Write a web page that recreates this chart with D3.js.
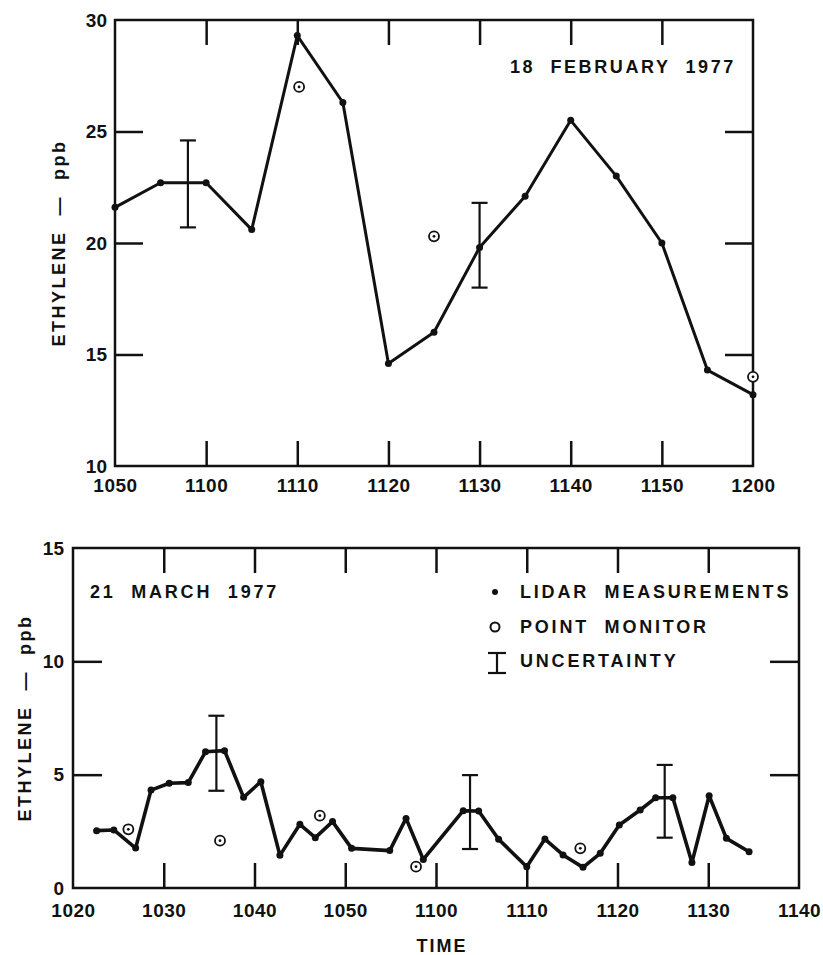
<!DOCTYPE html>
<html>
<head>
<meta charset="utf-8">
<script src="https://cdn.jsdelivr.net/npm/d3@7"></script>
<style>
  body { margin: 0; background: #fff; }
  text { font-family: "Liberation Sans", Arial, sans-serif; font-weight: bold; fill: #111; white-space: pre; }
</style>
</head>
<body>
<div class="chart"></div>
<script>
// times are minutes after 10:00
// 18 February 1977
var febTimes = [50, 55, 60, 65, 70, 75, 80, 85, 90, 95, 100, 105, 110, 115, 120];
var febLidar = [21.6, 22.7, 22.7, 20.6, 29.3, 26.3, 14.6, 16.0, 19.8, 22.1, 25.5, 23.0, 20.0, 14.3, 13.2];
var febMonTimes = [70.2, 85, 120];
var febMonitor = [27.0, 20.3, 14.0];
var febErrTimes = [58, 90];
var febErrLo = [20.7, 18.0];
var febErrHi = [24.6, 21.8];
var febTicks = [50, 60, 70, 80, 90, 100, 110, 120];
var febTickLabels = ["1050", "1100", "1110", "1120", "1130", "1140", "1150", "1200"];
var febYTicks = [10, 15, 20, 25, 30];

// 21 March 1977
var marTimes = [22.6, 24.5, 26.9, 28.6, 30.6, 32.7, 34.6, 36.7, 38.8, 40.7, 42.8, 45.0, 46.7, 48.6, 50.7,
                54.9, 56.7, 58.6, 63.0, 64.7, 66.9, 70.0, 72.0, 74.0, 76.2, 78.1, 80.2, 82.5, 84.2, 86.1,
                88.2, 90.1, 92.0, 94.5];
var marLidar = [2.53, 2.56, 1.76, 4.32, 4.62, 4.65, 6.01, 6.06, 4.0, 4.69, 1.44, 2.81, 2.22, 2.93, 1.75,
                1.65, 3.07, 1.26, 3.41, 3.40, 2.15, 0.94, 2.16, 1.46, 0.91, 1.53, 2.78, 3.44, 3.98, 3.98,
                1.12, 4.07, 2.19, 1.60];
var marMonTimes = [26.1, 36.2, 47.2, 57.8, 75.9];
var marMonitor = [2.59, 2.09, 3.19, 0.94, 1.75];
var marErrTimes = [35.8, 63.75, 85.2];
var marErrLo = [4.29, 1.72, 2.22];
var marErrHi = [7.6, 4.98, 5.43];
var marTicks = [20, 30, 40, 50, 60, 70, 80, 90, 100];
var marTickLabels = ["1020", "1030", "1040", "1050", "1100", "1110", "1120", "1130", "1140"];
var marYTicks = [0, 5, 10, 15];

var svg = d3.select(".chart")
    .append("svg")
    .attr("width", 823)
    .attr("height", 955)

function panel(opt) {
    var g = svg.append("g").attr("transform", "translate(" + opt.left + "," + opt.top + ")")
    var x = d3.scaleLinear().domain(opt.xDomain).range([0, opt.width])
    var y = d3.scaleLinear().domain(opt.yDomain).range([opt.height, 0])
    var inner = function (v, list) { return v != list[0] && v != list[list.length - 1] }

    // bottom axis: labels + inward ticks
    var ax = g.append("g").attr("transform", "translate(0," + opt.height + ")")
        .call(d3.axisBottom(x).tickValues(opt.xTicks)
            .tickFormat(function (d, i) { return opt.xLabels[i] })
            .tickSize(-opt.xTickLen).tickPadding(opt.xPad))
    ax.selectAll(".tick line").filter(function (d) { return !inner(d, opt.xTicks) }).remove()
    ax.selectAll(".tick text").style("font-size", "19px").attr("letter-spacing", "0.5px")

    g.append("g")
        .call(d3.axisTop(x).tickValues(opt.xTicks.filter(function (d) { return inner(d, opt.xTicks) }))
            .tickFormat("").tickSize(-opt.xTickLen))

    var ay = g.append("g")
        .call(d3.axisLeft(y).tickValues(opt.yTicks)
            .tickSize(-opt.yTickLen).tickPadding(opt.yPad))
    ay.selectAll(".tick line").filter(function (d) { return !inner(d, opt.yTicks) }).remove()
    ay.selectAll(".tick text").style("font-size", "19px")

    g.append("g").attr("transform", "translate(" + opt.width + ",0)")
        .call(d3.axisRight(y).tickValues(opt.yTicks.filter(function (d) { return inner(d, opt.yTicks) }))
            .tickFormat("").tickSize(-opt.yTickLen))

    g.selectAll(".domain").remove()
    g.selectAll(".tick line").attr("stroke", "#111").attr("stroke-width", 2.5)

    g.append("rect")
        .attr("width", opt.width)
        .attr("height", opt.height)
        .attr("fill", "none")
        .attr("stroke", "#111")
        .attr("stroke-width", 2.5)

    // y title
    g.append("text")
        .attr("transform", "translate(" + opt.yTitleX + "," + (opt.height / 2) + ") rotate(-90)")
        .attr("text-anchor", "middle")
        .attr("letter-spacing", "2.5px")
        .style("font-size", "18px")
        .text("ETHYLENE  \u2014  ppb")

    var pts = opt.times.map(function (t, i) { return [t, opt.lidar[i]] })
    g.append("path")
        .datum(pts)
        .attr("fill", "none")
        .attr("stroke", "#111")
        .attr("stroke-width", opt.lineW)
        .attr("stroke-linejoin", "round")
        .attr("d", d3.line().x(function (d) { return x(d[0]) }).y(function (d) { return y(d[1]) }))

    g.selectAll(".dot")
        .data(pts)
        .enter()
        .append("circle")
        .attr("cx", function (d) { return x(d[0]) })
        .attr("cy", function (d) { return y(d[1]) })
        .attr("r", 3.5)
        .attr("fill", "#111")

    // error bars
    opt.errTimes.forEach(function (t, i) {
        var eb = g.append("g").attr("stroke", "#111").attr("stroke-width", 2.2)
        eb.append("line").attr("x1", x(t)).attr("x2", x(t)).attr("y1", y(opt.errLo[i])).attr("y2", y(opt.errHi[i]))
        eb.append("line").attr("x1", x(t) - 8).attr("x2", x(t) + 8).attr("y1", y(opt.errLo[i])).attr("y2", y(opt.errLo[i]))
        eb.append("line").attr("x1", x(t) - 8).attr("x2", x(t) + 8).attr("y1", y(opt.errHi[i])).attr("y2", y(opt.errHi[i]))
    })

    // point monitor
    opt.monTimes.forEach(function (t, i) {
        g.append("circle").attr("cx", x(t)).attr("cy", y(opt.monitor[i])).attr("r", 5)
            .attr("fill", "#fff").attr("stroke", "#111").attr("stroke-width", 1.8)
        g.append("circle").attr("cx", x(t)).attr("cy", y(opt.monitor[i])).attr("r", 1.4).attr("fill", "#111")
    })
    return g
}

var top1 = panel({
    left: 115, top: 20, width: 638, height: 446,
    xDomain: [50, 120], yDomain: [10, 30],
    xTicks: febTicks, xLabels: febTickLabels, yTicks: febYTicks,
    xTickLen: 25, yTickLen: 28, xPad: 13, yPad: 8, yTitleX: -50, lineW: 3,
    times: febTimes, lidar: febLidar, monTimes: febMonTimes, monitor: febMonitor,
    errTimes: febErrTimes, errLo: febErrLo, errHi: febErrHi
})
top1.append("text")
    .attr("x", 395).attr("y", 53)
    .attr("letter-spacing", "2.6px")
    .style("font-size", "18px")
    .text("18  FEBRUARY  1977")

var bot = panel({
    left: 73, top: 548, width: 726, height: 340,
    xDomain: [20, 100], yDomain: [0, 15],
    xTicks: marTicks, xLabels: marTickLabels, yTicks: marYTicks,
    xTickLen: 25, yTickLen: 29, xPad: 16, yPad: 9, yTitleX: -42, lineW: 3.6,
    times: marTimes, lidar: marLidar, monTimes: marMonTimes, monitor: marMonitor,
    errTimes: marErrTimes, errLo: marErrLo, errHi: marErrHi
})
bot.append("text")
    .attr("x", 17).attr("y", 50)
    .attr("letter-spacing", "2.8px")
    .style("font-size", "18px")
    .text("21  MARCH  1977")

bot.append("text")
    .attr("x", 369).attr("y", 404)
    .attr("text-anchor", "middle")
    .attr("letter-spacing", "2px")
    .style("font-size", "18px")
    .text("TIME")

// legend
var leg = bot.append("g").attr("transform", "translate(422,0)")
leg.append("circle").attr("cx", 0).attr("cy", 44).attr("r", 3).attr("fill", "#111")
leg.append("text").attr("x", 25).attr("y", 50).attr("letter-spacing", "2.8px").style("font-size", "18px")
    .text("LIDAR  MEASUREMENTS")
leg.append("circle").attr("cx", 0).attr("cy", 79).attr("r", 4.5).attr("fill", "none")
    .attr("stroke", "#111").attr("stroke-width", 2)
leg.append("text").attr("x", 25).attr("y", 85).attr("letter-spacing", "2.8px").style("font-size", "18px")
    .text("POINT  MONITOR")
var lu = leg.append("g").attr("stroke", "#111").attr("stroke-width", 2.2)
lu.append("line").attr("x1", 2).attr("x2", 2).attr("y1", 105).attr("y2", 125)
lu.append("line").attr("x1", -7).attr("x2", 11).attr("y1", 105).attr("y2", 105)
lu.append("line").attr("x1", -7).attr("x2", 11).attr("y1", 125).attr("y2", 125)
leg.append("text").attr("x", 25).attr("y", 119).attr("letter-spacing", "2.8px").style("font-size", "18px")
    .text("UNCERTAINTY")
</script>
</body>
</html>
